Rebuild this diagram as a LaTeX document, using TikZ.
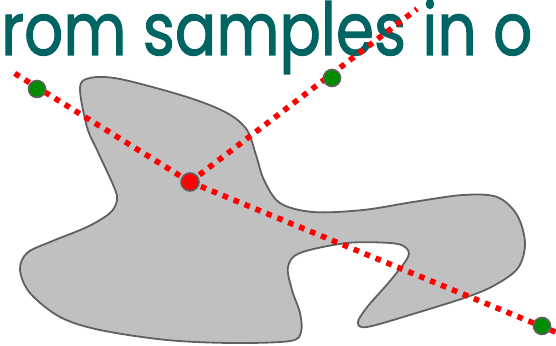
\documentclass[tikz,border=0pt]{standalone}
\usepackage{fontspec}
\setmainfont{Poppins}[FakeBold=1.6]
\definecolor{titlecol}{RGB}{0,100,98}
\definecolor{blobfill}{RGB}{192,192,192}
\definecolor{blobline}{RGB}{96,96,96}
\definecolor{ptgreen}{RGB}{0,140,0}
\definecolor{ptred}{RGB}{255,0,0}
\tikzset{
  blob/.style={fill=blobfill, draw=blobline, line width=1.8pt},
  ray/.style={draw=ptred, line width=5.6pt, dash pattern=on 5.6pt off 6.2pt},
  sample/.style={circle, fill=ptgreen, draw=blobline, line width=1.6pt, minimum size=17pt, inner sep=0pt},
  origin/.style={circle, fill=ptred, draw=blobline, line width=1.6pt, minimum size=18pt, inner sep=0pt},
  title/.style={text=titlecol, font=\fontsize{73}{80}\selectfont, inner sep=0pt, anchor=base west}
}
\begin{document}
\begin{tikzpicture}[x=1pt,y=-1pt]
\useasboundingbox (0,0) rectangle (556,345);
\clip (0,0) rectangle (556,345);
\node[title] (t) at (1,55) {\scalebox{0.84}[1]{rom samples in o}};
\draw[blob] plot[smooth cycle, tension=0.55] coordinates {
(80,88) (90,78) (120,79) (187,97) (227,113) (247,130) (256,155) (264,180)
(280,203) (313,212) (363,210) (413,202) (463,195) (497,197) (517,215)
(525,243) (518,268) (495,285) (467,297) (413,314) (367,327) (358,322)
(368,306) (390,281) (408,257) (405,247) (390,243) (347,243) (300,253)
(288,267) (292,290) (300,313) (301,332) (290,341) (233,343) (167,340)
(100,330) (60,317) (30,293) (20,270) (27,253) (50,242) (87,227)
(110,213) (117,200) (114,187) (97,150) (87,127)};
\coordinate (e1) at (14,73);
\coordinate (e2) at (417,9);
\coordinate (e3) at (570,338);
\coordinate (c0) at (190,182);
\draw[ray] (c0) -- (e1);
\draw[ray] (c0) -- (e2);
\draw[ray] (c0) -- (e3);
\node[sample] (g1) at (37,89) {};
\node[sample] (g2) at (332,78) {};
\node[sample] (g3) at (542,326) {};
\node[origin] (c) at (c0) {};
\end{tikzpicture}
\end{document}
